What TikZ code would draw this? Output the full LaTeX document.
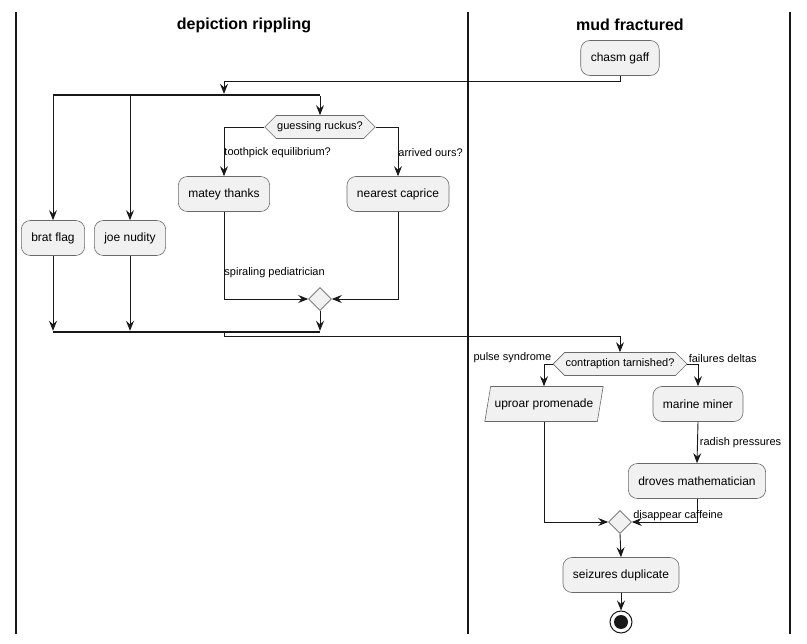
\documentclass[tikz,border=0pt]{standalone}
\usepackage{fontspec}
\setmainfont{Liberation Sans}
\usetikzlibrary{arrows.meta,positioning,shapes.geometric,shapes.symbols}
\definecolor{actfill}{HTML}{F1F1F1}
\definecolor{ink}{HTML}{181818}

\begin{document}
\begin{tikzpicture}[
x=1pt, y=-1pt,
act/.style={draw=ink!65, fill=actfill, line width=0.6pt, rounded corners=9pt, minimum height=35pt, inner xsep=10pt, font=\fontsize{12}{14}\selectfont},
hex/.style={draw=ink!65, fill=actfill, line width=0.6pt, signal, signal to=west and east, signal pointer angle=90, minimum height=23pt, inner xsep=1pt, font=\fontsize{11}{13}\selectfont},
para/.style={draw=ink!65, fill=actfill, line width=0.6pt, trapezium, trapezium stretches body, trapezium left angle=72, trapezium right angle=108, minimum height=35pt, inner xsep=4pt, font=\fontsize{12}{14}\selectfont},
merge/.style={draw=ink!65, fill=actfill, line width=0.6pt, diamond, minimum size=23pt, inner sep=0pt},
bar/.style={fill=ink, draw=none, inner sep=0pt, minimum height=2pt},
stopnode/.style={circle, draw=ink, line width=1pt, minimum size=22pt, inner sep=0pt, path picture={\fill[ink] (path picture bounding box.center) circle (7pt);}},
lbl/.style={font=\fontsize{11}{13}\selectfont, inner sep=1pt},
title/.style={font=\fontsize{16}{19}\selectfont\bfseries},
lane/.style={draw=ink, line width=1.2pt},
arr/.style={-{Stealth[length=10pt,width=8pt,inset=3.5pt]}, draw=ink, line width=0.9pt}
]
\useasboundingbox (0,0) rectangle (807,644);

% swimlanes
\draw[lane] (16,12) -- (16,634);
\draw[lane] (468,12) -- (468,634);
\draw[lane] (790,12) -- (790,634);
\node[title] (lanea) at (244,25) {depiction rippling};
\node[title] (laneb) at (630,25) {mud fractured};

% start and fork
\node[act] (chasm) at (620,58) {chasm gaff};
\coordinate (forkin) at (224,81);
\node[bar, minimum width=267pt] (fork) at (186.5,95) {};
\draw[arr] (chasm.south) |- (forkin) -- (fork.north -| forkin);

\node[act] (brat) at (53,238) {brat flag};
\node[act] (joe) at (130,238) {joe nudity};
\node[hex] (guess) at (320,127) {guessing ruckus?};
\draw[arr] (fork.south -| brat) -- (brat.north);
\draw[arr] (fork.south -| joe) -- (joe.north);
\draw[arr] (fork.south -| guess) -- (guess.north);

\node[act] (matey) at (224,194) {matey thanks};
\node[act] (nearest) at (398,194) {nearest caprice};
\draw[arr] (guess.west) -| node[lbl, pos=0.76, anchor=west, xshift=-1pt]{toothpick equilibrium?} (matey.north);
\draw[arr] (guess.east) -| node[lbl, pos=0.76, anchor=west, xshift=-1pt]{arrived ours?} (nearest.north);

\node[merge] (mergea) at (320,299) {};
\draw[arr] (matey.south) |- node[lbl, pos=0.35, anchor=west, xshift=-1pt]{spiraling pediatrician} (mergea.west);
\draw[arr] (nearest.south) |- (mergea.east);

% join
\node[bar, minimum width=267pt] (join) at (186.5,332) {};
\draw[arr] (mergea.south) -- (mergea.south |- join.north);
\draw[arr] (brat.south) -- (brat.south |- join.north);
\draw[arr] (joe.south) -- (joe.south |- join.north);

% second lane
\node[hex] (contra) at (620,364) {contraption tarnished?};
\coordinate (joinout) at (224,336);
\draw[arr] (join.south -| joinout) -- (joinout) -| (contra.north);

\node[para] (uproar) at (544,404) {uproar promenade};
\node[act] (marine) at (698,404) {marine miner};
\draw[arr] (contra.west) -| node[lbl, at start, anchor=south east]{pulse syndrome} (uproar.north);
\draw[arr] (contra.east) -| node[lbl, at start, anchor=south west]{failures deltas} (marine.north);

\node[act] (droves) at (697,481) {droves mathematician};
\draw[arr] (marine.south) -- node[lbl, anchor=west, xshift=1pt]{radish pressures} (droves.north);

\node[merge] (mergeb) at (620,522) {};
\draw[arr] (uproar.south) |- (mergeb.west);
\draw[arr] (droves.south) |- node[lbl, at end, anchor=south west]{disappear caffeine} (mergeb.east);

\node[act] (seize) at (621,575) {seizures duplicate};
\draw[arr] (mergeb.south) -- (seize.north);
\node[stopnode] (finish) at (621,622) {};
\draw[arr] (seize.south) -- (finish.north);
\end{tikzpicture}
\end{document}
